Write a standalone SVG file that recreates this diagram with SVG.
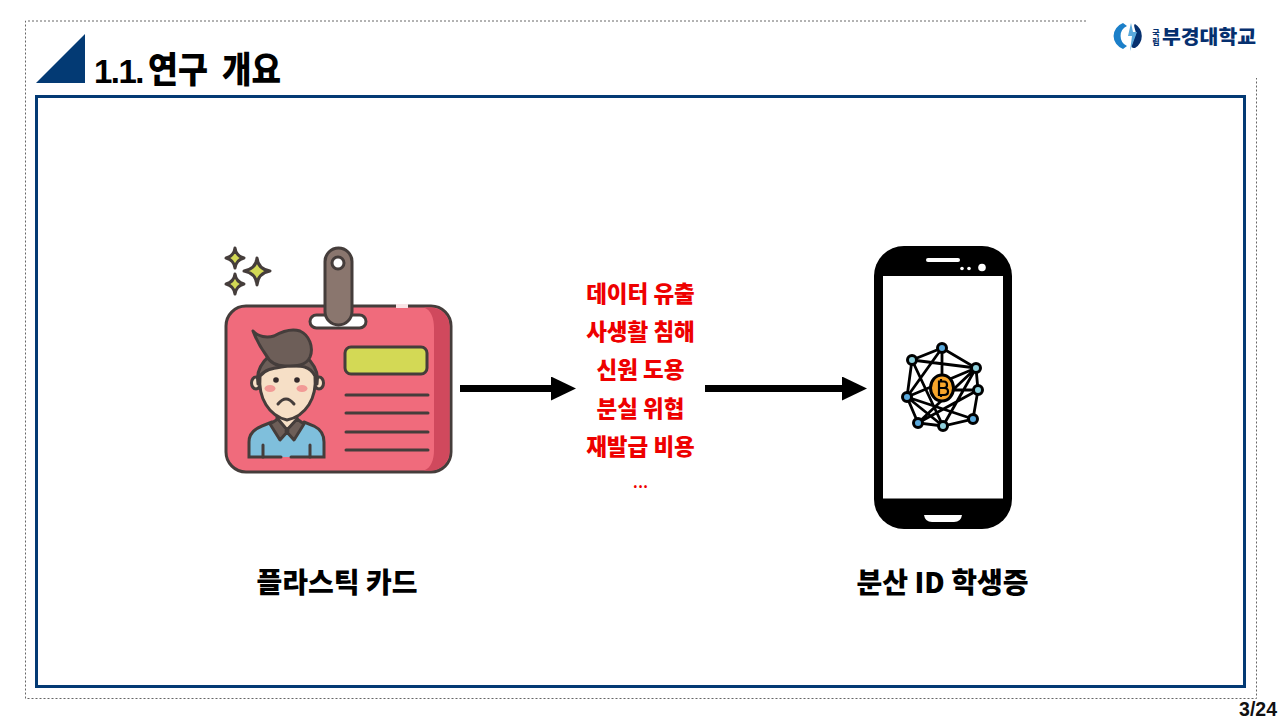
<svg xmlns="http://www.w3.org/2000/svg" width="1280" height="720" viewBox="0 0 1280 720">
<style>
.k{font-family:"Noto Sans CJK KR","Noto Sans",sans-serif;font-weight:900}
.red{fill:#ee0000;font-size:22.500px;text-anchor:middle}
.lab{fill:#000;font-size:28px;text-anchor:middle}
.dot{fill:none;stroke:#666;stroke-width:1;stroke-dasharray:2 2}
.o{stroke:#453d3b;stroke-width:3;stroke-linejoin:round;stroke-linecap:round}
.l{fill:none;stroke:#453d3b;stroke-width:3;stroke-linecap:round}
.n{stroke:#000;stroke-width:3}
.b{fill:#5aa9dc}.c{fill:#8fd0dc}
.net{stroke:#000;stroke-width:2.800;fill:none}
</style>
<defs>
<marker id="ah" markerUnits="userSpaceOnUse" markerWidth="25" markerHeight="24" refX="1" refY="12" orient="auto"><path d="M0 0L25 12L0 24Z" fill="#000"/></marker>
</defs>
<rect width="1280" height="720" fill="#fff"/>
<g id="frame">
<path class="dot" d="M1086 21H25.500V698.500H1256.500V78"/>
<path d="M85 34V83H36Z" fill="#033a74"/>
<rect x="36.500" y="96.500" width="1208" height="590" fill="none" stroke="#033a74" stroke-width="3"/>
</g>
<g id="title"><text class="k" y="83" font-size="36" fill="#000"><tspan x="94" style="font-family:'Liberation Sans',Arial,sans-serif;font-weight:700;font-size:33px;letter-spacing:-1.500px">1.1.</tspan><tspan x="148" textLength="60" lengthAdjust="spacingAndGlyphs">연구</tspan><tspan x="222" textLength="59" lengthAdjust="spacingAndGlyphs">개요</tspan></text></g>
<g id="logo">
<path d="M1123 23A15 14 0 0 0 1123 49L1127 46A11 11 0 0 1 1127 26Z" fill="#1b7fc9"/>
<path d="M1135 24A14 14 0 0 1 1135 48C1131 48 1131 46 1132 44L1136 33C1135 28 1133 25 1135 24Z" fill="#06306f"/>
<path d="M1131 23L1128 36L1132 36L1130 51L1137 32L1133 32Z" fill="#5aa9dc"/>
<text class="k" x="1156" y="36" font-size="8" text-anchor="middle" fill="#06306f">국</text>
<text class="k" x="1156" y="45" font-size="8" text-anchor="middle" fill="#06306f">립</text>
<text class="k" x="1162" y="44" font-size="19" textLength="94" lengthAdjust="spacingAndGlyphs" fill="#06306f">부경대학교</text>
</g>
<g id="page"><text x="1277" y="716" font-family="'Liberation Sans',Arial,sans-serif" font-weight="700" font-size="19.500" text-anchor="end" fill="#111">3/24</text></g>
<g id="connectors">
<path d="M460 388.500H552" stroke="#000" stroke-width="7" fill="none" marker-end="url(#ah)"/>
<path d="M705 388.500H843" stroke="#000" stroke-width="7" fill="none" marker-end="url(#ah)"/>
</g>
<g id="card">
<path class="o" fill="#d3d955" d="M235 248Q236 256 244 258Q236 260 235 268Q234 260 226 258Q234 256 235 248Z"/>
<path class="o" fill="#d3d955" d="M235 274Q236 282 244 284Q236 286 235 294Q234 286 226 284Q234 282 235 274Z"/>
<path class="o" fill="#d3d955" d="M257 258Q258 269 270 271Q258 273 257 285Q256 273 244 271Q256 269 257 258Z"/>
<rect x="226" y="306" width="225" height="166" rx="20" fill="#f06b7c" stroke="#453d3b" stroke-width="3"/>
<path d="M424 307.500H431A19 19 0 0 1 449.500 326V452A19 19 0 0 1 431 470.500H424C431 468 434 460 434 450V328C434 318 431 310 424 307.500Z" fill="#d0495d"/>
<rect x="396" y="304" width="12" height="4" fill="#f8e4e6"/>
<rect x="310" y="315" width="56" height="13" rx="6.500" class="o" fill="#fff"/>
<rect x="325" y="248" width="27" height="77" rx="13.500" class="o" fill="#8a766e"/>
<circle cx="338" cy="263" r="6" class="o" fill="#fff"/>
<rect x="345" y="347" width="82" height="27" rx="6" class="o" fill="#d3d955"/>
<path class="l" d="M346 395H428M346 413H428M346 432H428M346 450H428"/>
<path fill="#7fbfdc" d="M249 457V442Q249 431 262 426L272 422H304L314 426Q324 431 324 442V457Z"/>
<path class="l" d="M281 457H249V442Q249 431 262 426L272 422M304 422L314 426Q324 431 324 442V457H291"/>
<path class="l" d="M263 457V445M310 457V445"/>
<path class="o" fill="#f6dfc6" d="M277 410V421L287 430L297 421V410Z"/>
<path class="o" fill="#6d5e58" d="M270 424L278 419L288 431L280 440ZM304 424L297 419L286 431L294 440Z"/>
<ellipse cx="256" cy="383" rx="4.500" ry="6" class="o" fill="#f6dfc6"/>
<ellipse cx="319" cy="383" rx="4.500" ry="6" class="o" fill="#f6dfc6"/>
<path class="o" fill="#6d5e58" d="M258 384C255 368 268 350 287 350C306 350 320 368 317 384Z"/>
<path class="o" fill="#f6dfc6" d="M260 376C266 368 276 368 287 366C298 366 309 364 315 376C317 398 306 416 287 420C269 416 258 398 260 376Z"/>
<path class="o" fill="#6d5e58" d="M253 331C258 337 267 338 274 336C281 332 291 328 300 331C309 335 314 347 310 357C306 366 296 366 285 366C276 366 270 363 266 355Q258 344 253 331Z"/>
<circle cx="276" cy="380" r="2.800" fill="#33292a"/><circle cx="297" cy="380" r="2.800" fill="#33292a"/>
<ellipse cx="270" cy="388.500" rx="5.500" ry="3.500" fill="#f29a96"/><ellipse cx="302" cy="388.500" rx="5.500" ry="3.500" fill="#f29a96"/>
<path class="l" d="M278 404Q286 394 294 404"/>
</g>
<g id="risks">
<text class="k red" x="640.500" y="302">데이터 유출</text>
<text class="k red" x="640.500" y="340">사생활 침해</text>
<text class="k red" x="640.500" y="378">신원 도용</text>
<text class="k red" x="640.500" y="417">분실 위협</text>
<text class="k red" x="640.500" y="455">재발급 비용</text>
<text class="red" x="640.500" y="488" style="font-family:'Noto Sans',sans-serif;font-weight:500;font-size:19px">...</text>
</g>
<g id="phone">
<rect x="874" y="246" width="138" height="283" rx="30" fill="#000"/>
<rect x="883" y="276" width="120" height="222.500" fill="#fff"/>
<rect x="926" y="258" width="34" height="4" rx="2" fill="#fff"/>
<circle cx="962" cy="268.500" r="1.800" fill="#fff"/><circle cx="969" cy="268.500" r="1.800" fill="#fff"/><circle cx="982" cy="267.500" r="3.800" fill="#fff"/>
<path d="M924 515H962Q961 522 954 522H932Q925 522 924 515Z" fill="#fff"/>
<g id="network">
<path class="net" d="M942 348L912 360L907 397L918 423L943 426L973 419L978 390L976 368L942 348"/>
<path class="net" d="M912 360L976 368M942 348V388M942 348L907 397M912 360L943 426M976 368L907 397M976 368L918 423M976 368L943 426M978 390L918 423M907 397L943 426M978 390H942M907 397L973 419"/>
<circle cx="942" cy="348" r="4.500" class="n b"/><circle cx="912" cy="360" r="4.500" class="n c"/><circle cx="976" cy="368" r="4.500" class="n c"/><circle cx="978" cy="390" r="4.500" class="n c"/><circle cx="907" cy="397" r="4.500" class="n b"/><circle cx="973" cy="419" r="4.500" class="n b"/><circle cx="918" cy="423" r="4.500" class="n b"/><circle cx="943" cy="426" r="4.500" class="n c"/>
<ellipse cx="942" cy="388" rx="11.500" ry="13" class="n" fill="#f8a62b"/>
<path d="M939 381.500H944Q947 381.500 947 385Q947 388 944 388Q948 388 948 391.500Q948 395 944 395H939ZM939 388H944M941 379V381M941 395V397" fill="none" stroke="#000" stroke-width="2.200"/>
</g>
</g>
<g id="labels">
<text class="k lab" x="337" y="593">플라스틱 카드</text>
<text class="k lab" x="942.500" y="593">분산 ID 학생증</text>
</g>
</svg>
